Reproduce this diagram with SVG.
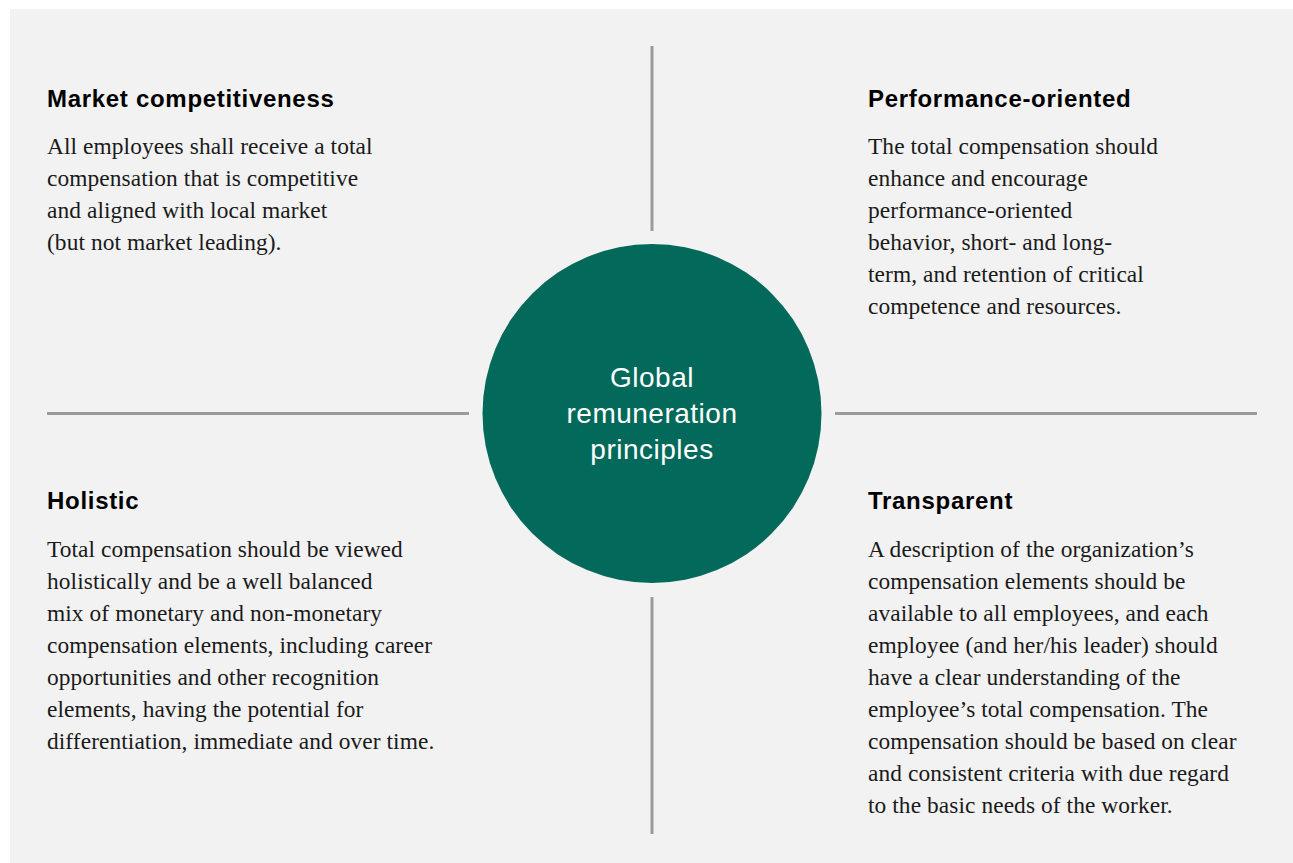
<svg xmlns="http://www.w3.org/2000/svg" width="1293" height="863" viewBox="0 0 1293 863">
<style>
.h{font-family:"Liberation Sans",Arial,sans-serif;font-weight:bold;font-size:24px;letter-spacing:0.7px;fill:#000}
.b{font-family:"Liberation Serif","Times New Roman",serif;font-size:23.4px;letter-spacing:0.08px;fill:#1a1a1a}
.c{font-family:"Liberation Sans",Arial,sans-serif;font-size:28px;letter-spacing:0.5px;fill:#fff;text-anchor:middle}
.ln{stroke:#9b9b9b;stroke-width:3;fill:none}
</style>
<rect x="0" y="0" width="1293" height="863" fill="#fff"/>
<rect x="10" y="9" width="1283" height="854" fill="#f2f2f2"/>
<g id="connectors">
<line class="ln" x1="652" y1="46" x2="652" y2="231"/>
<line class="ln" x1="652" y1="597" x2="652" y2="834"/>
<line class="ln" x1="47" y1="413.5" x2="469" y2="413.5"/>
<line class="ln" x1="835" y1="413.5" x2="1257" y2="413.5"/>
</g>
<g id="center">
<circle cx="652" cy="413.5" r="169.5" fill="#03695a"/>
<text class="c" x="652" y="387">Global</text>
<text class="c" x="652" y="423">remuneration</text>
<text class="c" x="652" y="459">principles</text>
</g>
<g id="market">
<text class="h" x="47" y="107">Market competitiveness</text>
<text class="b" x="47" y="154">All employees shall receive a total</text>
<text class="b" x="47" y="186">compensation that is competitive</text>
<text class="b" x="47" y="218">and aligned with local market</text>
<text class="b" x="47" y="250">(but not market leading).</text>
</g>
<g id="performance">
<text class="h" x="868" y="107">Performance-oriented</text>
<text class="b" x="868" y="154">The total compensation should</text>
<text class="b" x="868" y="186">enhance and encourage</text>
<text class="b" x="868" y="218">performance-oriented</text>
<text class="b" x="868" y="250">behavior, short- and long-</text>
<text class="b" x="868" y="282">term, and retention of critical</text>
<text class="b" x="868" y="314">competence and resources.</text>
</g>
<g id="holistic">
<text class="h" x="47" y="509">Holistic</text>
<text class="b" x="47" y="557">Total compensation should be viewed</text>
<text class="b" x="47" y="589">holistically and be a well balanced</text>
<text class="b" x="47" y="621">mix of monetary and non-monetary</text>
<text class="b" x="47" y="653">compensation elements, including career</text>
<text class="b" x="47" y="685">opportunities and other recognition</text>
<text class="b" x="47" y="717">elements, having the potential for</text>
<text class="b" x="47" y="749">differentiation, immediate and over time.</text>
</g>
<g id="transparent">
<text class="h" x="868" y="509">Transparent</text>
<text class="b" x="868" y="557">A description of the organization’s</text>
<text class="b" x="868" y="589">compensation elements should be</text>
<text class="b" x="868" y="621">available to all employees, and each</text>
<text class="b" x="868" y="653">employee (and her/his leader) should</text>
<text class="b" x="868" y="685">have a clear understanding of the</text>
<text class="b" x="868" y="717">employee’s total compensation. The</text>
<text class="b" x="868" y="749">compensation should be based on clear</text>
<text class="b" x="868" y="781">and consistent criteria with due regard</text>
<text class="b" x="868" y="813">to the basic needs of the worker.</text>
</g>
</svg>
